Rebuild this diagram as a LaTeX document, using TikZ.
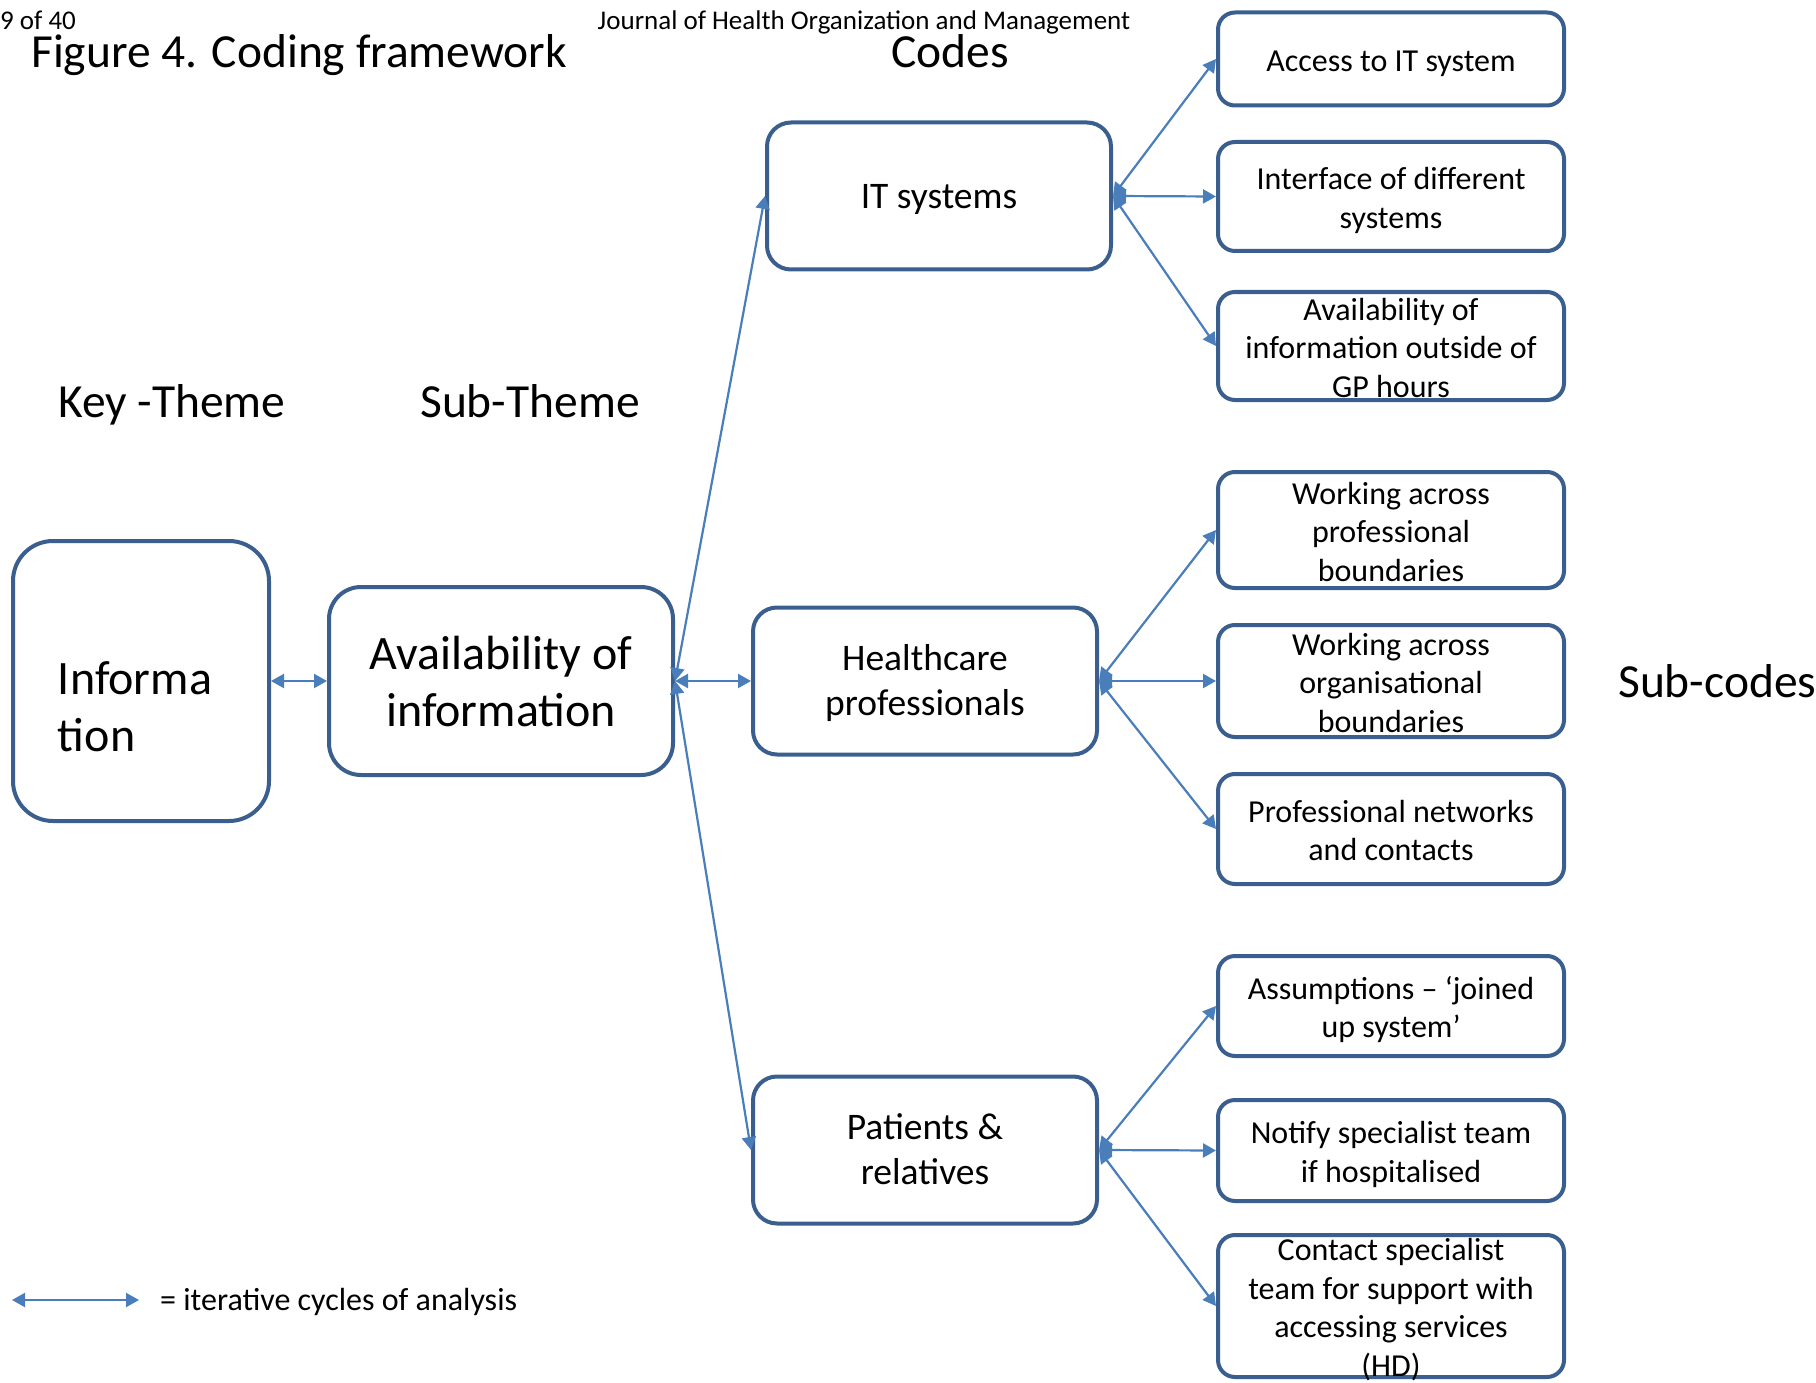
\documentclass[tikz,border=0pt]{standalone}
\usepackage{fontspec}
\setmainfont{Carlito}
\usepackage{xcolor}
\usetikzlibrary{arrows.meta,positioning}
\definecolor{boxline}{HTML}{3A5F8F}
\definecolor{arrline}{HTML}{4A7EBB}
\newcommand\cellshift{-0.35em}
\newcommand\celltext[2][c]{\raisebox{\cellshift}[0pt][0pt]{\begin{tabular}{@{}#1@{}}#2\end{tabular}}}

\begin{document}
\begin{tikzpicture}[
    x=1pt, y=-1pt,
    box/.style={rectangle, draw=boxline, line width=4pt, fill=white, inner sep=0pt},
    theme/.style={box, rounded corners=40pt, font={\fontsize{48}{57}\selectfont\renewcommand\cellshift{-0.254em}}},
    code/.style={box, rounded corners=24pt, minimum width=344pt, minimum height=147pt, font={\fontsize{37.5}{45}\selectfont\renewcommand\cellshift{-0.257em}}},
    subcode/.style={box, rounded corners=17pt, minimum width=346pt, font=\fontsize{32}{38.5}\selectfont},
    heading/.style={anchor=west, inner sep=0pt, font={\fontsize{47.5}{57}\selectfont\renewcommand\cellshift{-0.224em}}},
    small/.style={anchor=west, inner sep=0pt, font=\fontsize{27}{33}\selectfont},
    arr/.style={{Triangle[length=13pt,width=14pt]}-{Triangle[length=13pt,width=14pt]}, draw=arrline, fill=arrline, line width=2.2pt}
]
  \useasboundingbox (0,0) rectangle (1816,1383);

  \node[small] (page) at (0,20) {\celltext{9 of 40}};
  \node[small, anchor=center] (journal) at (864,20) {\celltext{Journal of Health Organization and Management}};
  \node[heading] (title) at (31,52) {\celltext{Figure 4. Coding framework}};
  \node[heading, anchor=center] (codes) at (950,52) {\celltext{Codes}};
  \node[heading] (keytheme) at (58,402) {\celltext{Key -Theme}};
  \node[heading] (subtheme) at (420,402) {\celltext{Sub-Theme}};
  \node[heading] (subcodes) at (1618,682) {\celltext{Sub-codes}};

  \node[theme, minimum width=256pt, minimum height=280pt] (info) at (141,681)
    {\hspace*{-12pt}\raisebox{-49pt}{\celltext[l]{Informa\\tion}}};
  \node[theme, rounded corners=32pt, minimum width=344pt, minimum height=188pt] (avail) at (501,681) {\celltext{Availability of\\information}};

  \node[code] (it) at (939,196) {\celltext{IT systems}};
  \node[code] (hc) at (925,681) {\celltext{Healthcare\\professionals}};
  \node[code] (pr) at (925,1150) {\celltext{Patients \&\\relatives}};

  \node[subcode, minimum height=93pt] (s1) at (1391,59) {\celltext{Access to IT system}};
  \node[subcode, minimum height=109pt] (s2) at (1391,196.5) {\celltext{Interface of different\\systems}};
  \node[subcode, minimum height=108pt] (s3) at (1391,346) {\celltext{Availability of\\information outside of\\GP hours}};
  \node[subcode, minimum height=116pt] (s4) at (1391,530) {\celltext{Working across\\professional\\boundaries}};
  \node[subcode, minimum height=112pt] (s5) at (1391,681) {\celltext{Working across\\organisational\\boundaries}};
  \node[subcode, minimum height=110pt] (s6) at (1391,829) {\celltext{Professional networks\\and contacts}};
  \node[subcode, minimum height=100pt] (s7) at (1391,1006) {\celltext{Assumptions -- ‘joined\\up system’}};
  \node[subcode, minimum height=101pt] (s8) at (1391,1150.5) {\celltext{Notify specialist team\\if hospitalised}};
  \node[subcode, minimum height=142pt] (s9) at (1391,1306) {\celltext{Contact specialist\\team for support with\\accessing services\\(HD)}};

  \draw[arr] (info) -- (avail);
  \draw[arr] (avail.east) -- (it.west);
  \draw[arr] (avail.east) -- (hc.west);
  \draw[arr] (avail.east) -- (pr.west);

  \draw[arr] (it.east) -- (s1.west);
  \draw[arr] (it.east) -- (s2.west);
  \draw[arr] (it.east) -- (s3.west);
  \draw[arr] (hc.east) -- (s4.west);
  \draw[arr] (hc.east) -- (s5.west);
  \draw[arr] (hc.east) -- (s6.west);
  \draw[arr] (pr.east) -- (s7.west);
  \draw[arr] (pr.east) -- (s8.west);
  \draw[arr] (pr.east) -- (s9.west);

  \coordinate (lgA) at (12,1300);
  \coordinate (lgB) at (139,1300);
  \draw[arr] (lgA) -- (lgB);
  \node[anchor=west, inner sep=0pt, font={\fontsize{32}{38.5}\selectfont\renewcommand\cellshift{-0.28em}}] (legend) at (160,1300) {\celltext{= iterative cycles of analysis}};
\end{tikzpicture}
\end{document}
